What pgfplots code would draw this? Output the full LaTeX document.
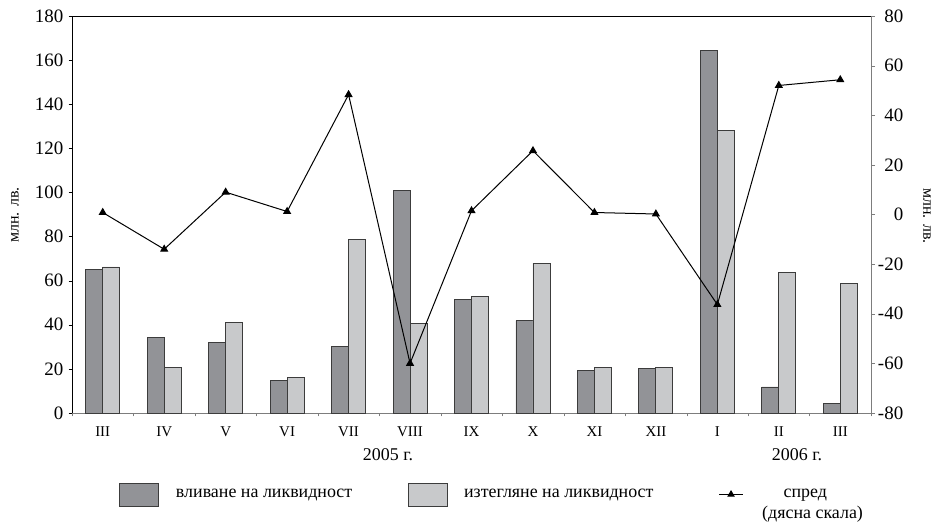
\documentclass[border=0pt]{standalone}
\usepackage{fontspec}
\setmainfont{Liberation Serif}
\usepackage{pgfplots}
\pgfplotsset{compat=1.18}
\definecolor{darkbar}{RGB}{146,147,151}
\definecolor{lightbar}{RGB}{200,201,203}
\definecolor{axisgray}{RGB}{125,125,125}
\definecolor{edge}{RGB}{60,60,60}
\pgfplotsset{spreadleg/.style={legend image code/.code={\draw[mark repeat=2,mark phase=2,##1] plot coordinates {(0bp,0bp) (12bp,0bp) (24bp,0bp)};}}}
\begin{document}
\begin{tikzpicture}[x=1bp,y=1bp]
\begin{axis}[
  at={(0,0)}, anchor=south west,
  scale only axis, width=799bp, height=397bp,
  xmin=-0.5, xmax=12.5, ymin=0, ymax=180,
  axis x line*=bottom, axis y line*=left,
  x axis line style={axisgray,-},
  y axis line style={black,-},
  tick align=outside,
  major tick length=3.5bp,
  xtick={-0.5,0.5,1.5,2.5,3.5,4.5,5.5,6.5,7.5,8.5,9.5,10.5,11.5,12.5},
  x tick label as interval,
  xticklabels={III,IV,V,VI,VII,VIII,IX,X,XI,XII,I,II,III},
  xtick style={axisgray},
  ytick={0,20,...,180},
  yticklabels={0,20,40,60,80,100,120,140,160,180},
  ytick style={black},
  xticklabel style={font=\fontsize{15}{15}\selectfont, inner sep=0pt, yshift=-10bp},
  yticklabel style={font=\fontsize{19}{19}\selectfont, inner sep=0pt, xshift=-5bp},
  clip=false,
  legend columns=3,
  legend style={at={(0.0588,-0.2053)}, anchor=west, draw=none, inner sep=0pt,
    nodes={inner sep=0pt, font=\fontsize{18}{18}\selectfont},
    /tikz/column 1/.style={column sep=17bp},
    /tikz/column 2/.style={column sep=56bp},
    /tikz/column 3/.style={column sep=16bp},
    /tikz/column 4/.style={column sep=65bp},
    /tikz/column 5/.style={column sep=40bp}},
]
\draw[black] (rel axis cs:0,1) -- (rel axis cs:1,1);
\addplot[ybar, bar width=17bp, bar shift=-8.5bp, fill=darkbar, draw=edge, line width=0.8bp,
  legend image code/.code={\draw[fill=darkbar, draw=edge, line width=0.8bp] (0bp,-11.5bp) rectangle (39bp,11.5bp);}]
  coordinates {(0,65) (1,34.3) (2,31.9) (3,14.8) (4,30.1) (5,100.8) (6,51.4) (7,41.9) (8,19.3) (9,20.1) (10,164.3) (11,11.8) (12,4.2)};
\addlegendentry{вливане на ликвидност}
\addplot[ybar, bar width=17bp, bar shift=8.5bp, fill=lightbar, draw=edge, line width=0.8bp,
  legend image code/.code={\draw[fill=lightbar, draw=edge, line width=0.8bp] (0bp,-11.5bp) rectangle (39bp,11.5bp);}]
  coordinates {(0,66.2) (1,20.5) (2,40.9) (3,16.0) (4,78.7) (5,40.6) (6,52.9) (7,67.9) (8,20.5) (9,20.5) (10,128) (11,63.9) (12,58.6)};
\addlegendentry{изтегляне на ликвидност}
\addlegendimage{black, line width=1bp, mark=triangle*, mark size=3.5, spreadleg}
\addlegendentry{спред}
\end{axis}
\begin{axis}[
  at={(0,0)}, anchor=south west,
  scale only axis, width=799bp, height=397bp,
  xmin=-0.5, xmax=12.5, ymin=-80, ymax=80,
  axis y line*=right, axis x line=none,
  y axis line style={axisgray,-},
  tick align=outside,
  major tick length=4bp,
  ytick={-80,-60,...,80},
  yticklabels={-80,-60,-40,-20,0,20,40,60,80},
  ytick style={axisgray},
  yticklabel style={font=\fontsize{19}{19}\selectfont, inner sep=0pt, text width=28bp, align=right},
  clip=false,
]
\addplot[black, line width=1bp, mark=triangle*, mark size=3.8, mark options={solid}]
  coordinates {(0,0.8) (1,-14) (2,9) (3,1.2) (4,48.3) (5,-60) (6,1.5) (7,25.7) (8,0.8) (9,0.2) (10,-36.3) (11,52) (12,54.3)};
\end{axis}
\node[rotate=90, font=\fontsize{16}{16}\selectfont] at (-57,198) {млн. лв.};
\node[rotate=-90, font=\fontsize{16}{16}\selectfont] at (855,197) {млн. лв.};
\node[font=\fontsize{18}{18}\selectfont] at (316,-42) {2005 г.};
\node[font=\fontsize{18}{18}\selectfont] at (725,-42) {2006 г.};
\node[font=\fontsize{18}{18}\selectfont, anchor=west, inner sep=0pt] at (690,-101) {(дясна скала)};
\pgfresetboundingbox
\path[use as bounding box] (-72,-110) rectangle (864,413);
\end{tikzpicture}
\end{document}
